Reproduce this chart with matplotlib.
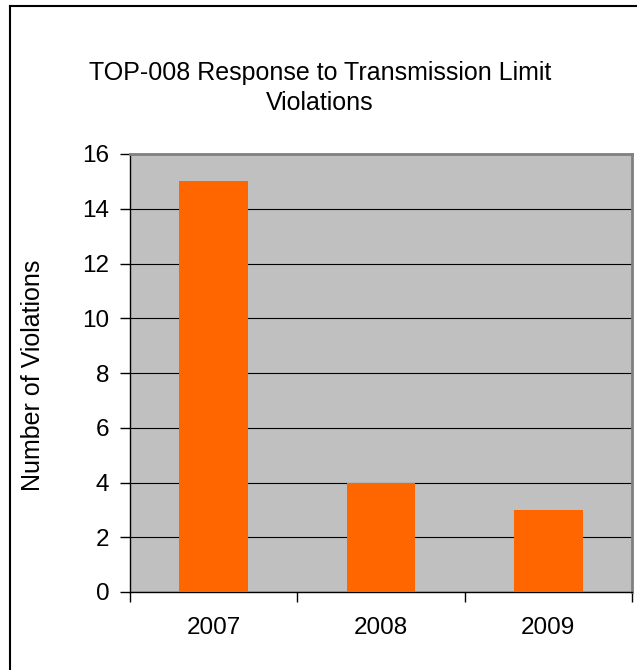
import matplotlib
matplotlib.use("Agg")
import matplotlib.pyplot as plt
from matplotlib.lines import Line2D

plt.rcParams["font.family"] = ["Liberation Sans", "DejaVu Sans"]

years = ["2007", "2008", "2009"]
violations = [15, 4, 3]
y_ticks = [0, 2, 4, 6, 8, 10, 12, 14, 16]

W, H = 637, 670
fig = plt.figure(figsize=(W / 100, H / 100), dpi=100)

# outer chart border (only top and left visible in the reference)
fig.add_artist(Line2D([9.5 / W, 9.5 / W], [0, 1 - 6 / H], color="black", lw=1.5))
fig.add_artist(Line2D([9.5 / W, 1], [1 - 6 / H, 1 - 6 / H], color="black", lw=1.5))

ax = fig.add_axes([130 / W, 1 - 592 / H, 502 / W, 438 / H])
ax.set_facecolor("#C0C0C0")
x = range(len(years))
ax.bar(x, violations, width=0.41, color="#FF6600", zorder=3)
ax.set_xlim(-0.5, len(years) - 0.5)
ax.set_ylim(0, 16)
ax.set_yticks(y_ticks)
ax.set_yticklabels([str(v) for v in y_ticks], fontsize=17.5)
ax.yaxis.grid(True, color="black", lw=0.8, zorder=1)
ax.set_axisbelow(True)

# category separators as tick marks on the x axis
ax.set_xticks([-0.5, 0.5, 1.5, 2.5])
ax.set_xticklabels([])
ax.set_xticks(list(x), minor=True)
ax.set_xticklabels(years, minor=True, fontsize=17.5)
ax.tick_params(axis="x", which="minor", length=0, pad=18)
ax.tick_params(axis="x", which="major", length=7, width=1, color="black")
ax.tick_params(axis="y", length=7, width=1, pad=8)

for side in ["top", "right"]:
    ax.spines[side].set_color("#808080")
    ax.spines[side].set_linewidth(2)
for side in ["left", "bottom"]:
    ax.spines[side].set_color("black")
    ax.spines[side].set_linewidth(1)

fig.text(33 / W, 1 - 375 / H, "Number of Violations", rotation=90,
         ha="center", va="center", fontsize=18)
fig.text(320 / W, 1 - 88 / H,
         "TOP-008 Response to Transmission Limit\nViolations",
         ha="center", va="center", fontsize=18, linespacing=1.35)

fig.savefig("out.png", dpi=100)
